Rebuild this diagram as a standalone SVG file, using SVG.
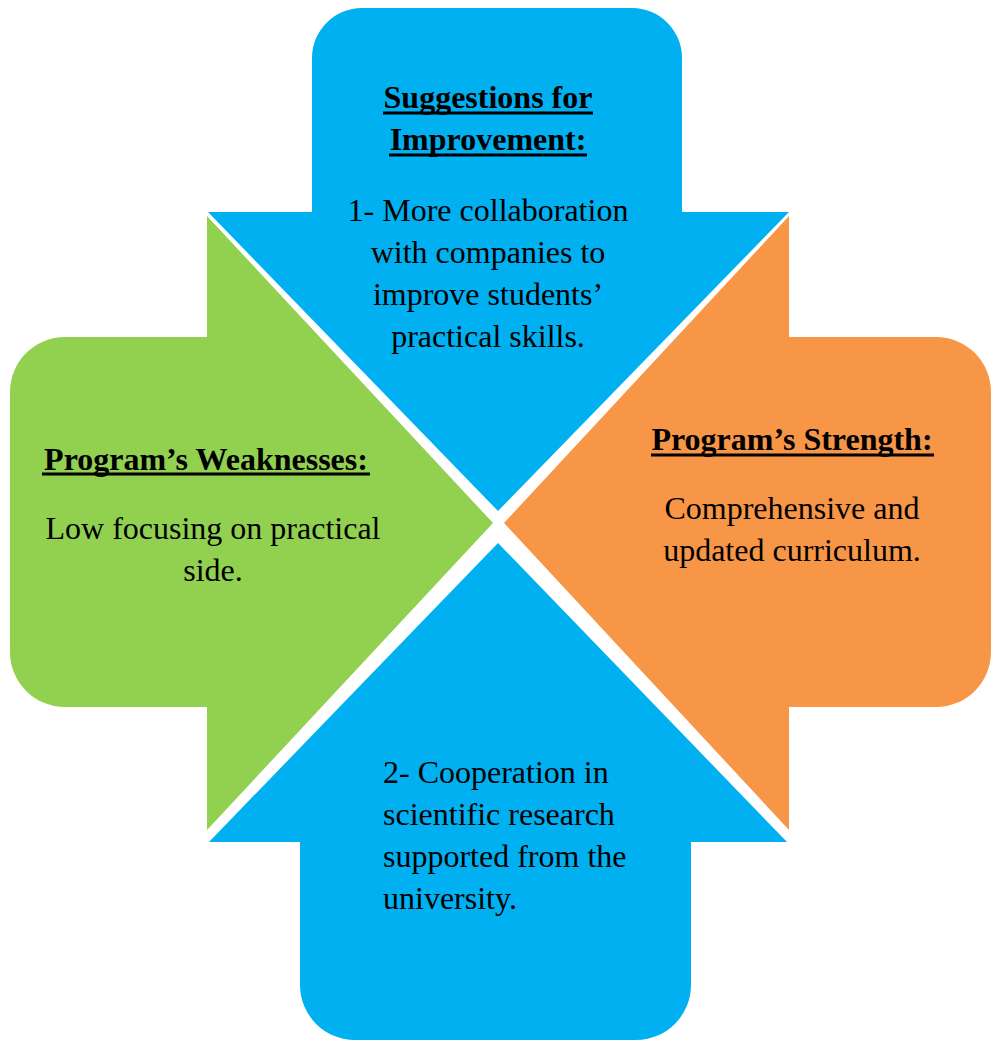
<svg xmlns="http://www.w3.org/2000/svg" width="992" height="1040" viewBox="0 0 992 1040">
<style>
.t{font-family:"Liberation Serif","Times New Roman",serif;font-size:32px;fill:#000}
.b{font-weight:bold}
.m{text-anchor:middle}
.u{stroke:#000;stroke-width:3}
</style>
<rect width="992" height="1040" fill="#fff"/>
<g id="top">
<path d="M312,212 L312,58 A50,50 0 0 1 362,8 L632,8 A50,50 0 0 1 682,58 L682,212 L789,212 L498,511 L208,212 Z" fill="#00B0F0"/>
<text class="t b m" x="488" y="108">Suggestions for</text>
<line class="u" x1="383" y1="113" x2="593" y2="113"/>
<text class="t b m" x="488" y="150">Improvement:</text>
<line class="u" x1="389" y1="155" x2="587" y2="155"/>
<text class="t m" x="488" y="221">1- More collaboration</text>
<text class="t m" x="488" y="263">with companies to</text>
<text class="t m" x="488" y="305">improve students’</text>
<text class="t m" x="488" y="347">practical skills.</text>
</g>
<g id="left">
<path d="M10,392 A55,55 0 0 1 65,337 L207,337 L207,216 L493,523 L207,830 L207,707 L65,707 A55,55 0 0 1 10,652 Z" fill="#92D050"/>
<text class="t b m" x="206" y="470">Program’s Weaknesses:</text>
<line class="u" x1="42" y1="474" x2="370" y2="474"/>
<text class="t m" x="213" y="539">Low focusing on practical</text>
<text class="t m" x="213" y="581">side.</text>
</g>
<g id="right">
<path d="M789,216 L789,337 L936,337 A55,55 0 0 1 991,392 L991,652 A55,55 0 0 1 936,707 L789,707 L789,830 L504,523 Z" fill="#F79646"/>
<text class="t b m" x="792" y="450">Program’s Strength:</text>
<line class="u" x1="651" y1="455" x2="934" y2="455"/>
<text class="t m" x="792" y="519">Comprehensive and</text>
<text class="t m" x="792" y="561">updated curriculum.</text>
</g>
<g id="bottom">
<path d="M209,842 L498,543 L787,842 L691,842 L691,985 A55,55 0 0 1 636,1040 L355,1040 A55,55 0 0 1 300,985 L300,842 Z" fill="#00B0F0"/>
<text class="t" x="383" y="783">2- Cooperation in</text>
<text class="t" x="383" y="825">scientific research</text>
<text class="t" x="383" y="867">supported from the</text>
<text class="t" x="383" y="909">university.</text>
</g>
<g id="connectors"/>
</svg>
